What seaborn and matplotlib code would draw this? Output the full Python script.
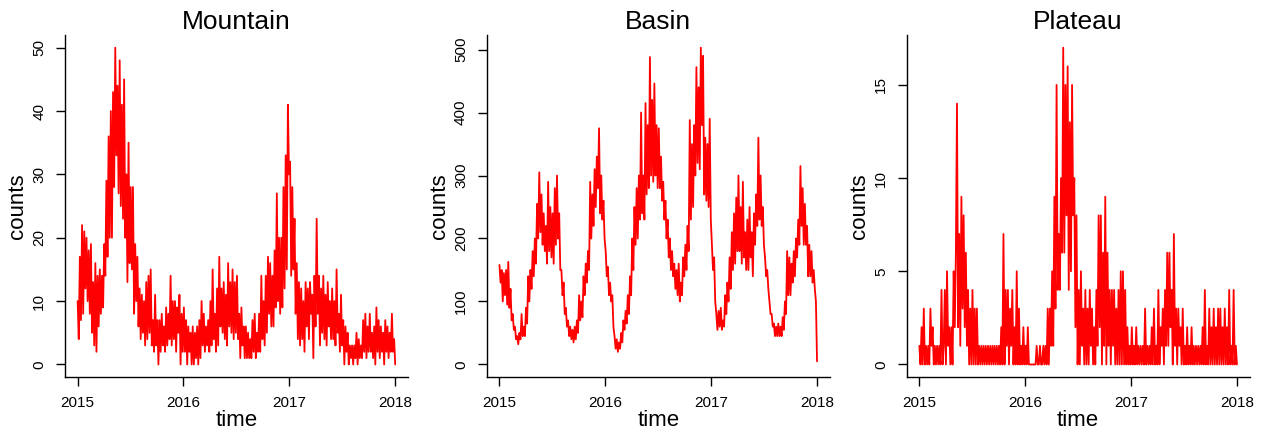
import numpy as np
import pandas as pd
import seaborn as sns
import matplotlib.pyplot as plt

# values, ~8 per month, Jan 2015 .. Dec 2017
mountain = [
    10, 4, 17, 7, 22, 8, 21, 12,
    20, 10, 18, 8, 19, 5, 13, 3,
    16, 2, 14, 6, 15, 8, 14, 9,
    19, 14, 29, 17, 36, 20, 40, 20,
    43, 28, 50, 33, 44, 27, 48, 25,
    41, 23, 45, 20, 30, 13, 35, 16,
    28, 15, 28, 8, 19, 10, 17, 6,
    12, 4, 11, 5, 10, 3, 13, 4,
    14, 5, 15, 3, 7, 2, 11, 3,
    7, 0, 7, 2, 8, 3, 6, 2,
    9, 3, 8, 4, 14, 3, 10, 4,
    10, 2, 9, 5, 11, 0, 8, 2,
    9, 2, 7, 0, 6, 2, 5, 0,
    6, 0, 5, 1, 6, 0, 7, 1,
    10, 3, 8, 2, 6, 3, 7, 2,
    10, 3, 15, 4, 8, 2, 12, 3,
    17, 6, 12, 5, 13, 4, 11, 3,
    16, 6, 13, 5, 15, 4, 13, 5,
    14, 4, 8, 1, 9, 3, 6, 1,
    6, 1, 5, 1, 4, 1, 7, 2,
    8, 1, 5, 2, 8, 2, 14, 4,
    10, 3, 14, 5, 17, 8, 16, 6,
    14, 6, 18, 9, 27, 10, 20, 8,
    20, 9, 28, 12, 33, 15, 41, 30,
    32, 14, 28, 15, 23, 8, 16, 4,
    13, 3, 12, 4, 10, 2, 13, 6,
    12, 4, 13, 8, 11, 1, 14, 6,
    23, 8, 14, 3, 12, 5, 14, 4,
    11, 3, 13, 6, 10, 4, 12, 4,
    10, 3, 15, 5, 8, 2, 11, 3,
    7, 0, 6, 2, 5, 0, 3, 1,
    3, 0, 3, 1, 5, 0, 4, 1,
    3, 1, 7, 2, 8, 1, 6, 2,
    8, 2, 5, 1, 6, 0, 9, 2,
    7, 1, 6, 2, 5, 0, 7, 2,
    6, 1, 5, 2, 8, 2, 4, 0,
]

basin = [
    158, 130, 150, 100, 145, 110, 150, 95,
    163, 90, 120, 70, 80, 55, 60, 40,
    45, 32, 50, 40, 80, 45, 60, 45,
    90, 65, 140, 100, 150, 120, 180, 140,
    200, 160, 255, 200, 305, 210, 270, 190,
    240, 180, 220, 160, 290, 180, 250, 170,
    240, 160, 280, 190, 300, 200, 240, 150,
    150, 110, 130, 80, 90, 60, 70, 45,
    60, 40, 55, 35, 60, 40, 70, 50,
    110, 70, 100, 75, 140, 110, 160, 130,
    180, 150, 290, 200, 270, 220, 310, 250,
    330, 280, 375, 240, 300, 230, 260, 200,
    180, 140, 155, 110, 130, 100, 110, 60,
    45, 25, 40, 20, 35, 25, 50, 35,
    70, 55, 85, 65, 110, 80, 140, 110,
    200, 150, 250, 190, 280, 200, 300, 230,
    400, 240, 300, 230, 415, 270, 380, 280,
    488, 300, 420, 290, 446, 300, 380, 280,
    375, 280, 330, 260, 290, 230, 260, 200,
    230, 170, 200, 150, 180, 140, 160, 120,
    150, 110, 160, 100, 130, 110, 170, 140,
    190, 150, 220, 180, 388, 230, 350, 250,
    380, 300, 472, 320, 440, 310, 503, 380,
    490, 270, 360, 260, 350, 250, 390, 230,
    190, 150, 170, 100, 80, 55, 85, 60,
    90, 55, 70, 60, 110, 80, 130, 100,
    170, 120, 210, 150, 240, 160, 265, 180,
    300, 180, 250, 160, 290, 170, 210, 150,
    230, 150, 250, 170, 210, 140, 240, 190,
    270, 220, 360, 230, 300, 220, 250, 190,
    170, 140, 150, 120, 100, 80, 80, 60,
    65, 45, 60, 45, 65, 45, 60, 45,
    75, 55, 100, 80, 180, 110, 170, 110,
    160, 130, 180, 140, 200, 170, 230, 190,
    315, 220, 280, 190, 255, 190, 220, 140,
    190, 140, 180, 130, 150, 120, 100, 5,
]

plateau = [
    1, 0, 2, 0, 3, 0, 1, 0,
    1, 0, 3, 1, 2, 0, 1, 0,
    1, 0, 1, 0, 4, 0, 1, 4,
    0, 5, 1, 2, 0, 2, 0, 5,
    2, 6, 14, 2, 7, 1, 9, 3,
    8, 2, 6, 1, 4, 0, 3, 0,
    4, 0, 3, 0, 3, 0, 1, 0,
    1, 0, 1, 0, 1, 0, 1, 0,
    1, 0, 1, 0, 1, 0, 1, 0,
    1, 0, 2, 0, 7, 0, 4, 1,
    4, 0, 3, 1, 4, 0, 2, 0,
    5, 0, 3, 0, 1, 0, 2, 0,
    1, 0, 2, 0, 0, 0, 0, 0,
    0, 0, 1, 0, 0, 1, 0, 0,
    1, 0, 1, 0, 3, 0, 3, 1,
    5, 1, 9, 3, 15, 4, 7, 4,
    10, 6, 17, 6, 15, 8, 16, 4,
    13, 5, 15, 8, 10, 2, 8, 0,
    4, 0, 5, 1, 3, 0, 4, 0,
    3, 0, 4, 1, 3, 0, 2, 0,
    4, 1, 8, 2, 8, 0, 6, 1,
    9, 0, 6, 1, 4, 0, 4, 1,
    4, 0, 3, 0, 4, 0, 5, 0,
    5, 0, 4, 0, 2, 0, 1, 0,
    2, 0, 1, 0, 2, 0, 1, 0,
    1, 0, 1, 0, 3, 0, 1, 0,
    1, 0, 2, 0, 3, 0, 1, 0,
    4, 0, 2, 1, 3, 0, 4, 1,
    6, 1, 6, 2, 4, 0, 7, 1,
    3, 0, 3, 1, 2, 0, 3, 0,
    1, 0, 2, 0, 1, 0, 2, 0,
    1, 0, 1, 0, 1, 0, 1, 0,
    2, 0, 4, 0, 1, 0, 3, 0,
    2, 0, 3, 0, 2, 0, 3, 0,
    3, 0, 2, 0, 3, 0, 2, 0,
    4, 0, 1, 0, 4, 0, 1, 0,
]

titles = ["Mountain", "Basin", "Plateau"]
series = [mountain, basin, plateau]
yticks = [[0, 10, 20, 30, 40, 50], [0, 100, 200, 300, 400, 500], [0, 5, 10, 15]]
years = ["2015", "2016", "2017", "2018"]

sns.set_style("ticks")
plt.rcParams["font.family"] = ["Liberation Sans", "DejaVu Sans"]
plt.rcParams["text.color"] = "black"
plt.rcParams["axes.labelcolor"] = "black"

fig = plt.figure(figsize=(12.61, 4.32), dpi=100)
lefts = [0.0515, 0.386, 0.719]

for i in range(3):
    ax = fig.add_axes([lefts[i], 0.127, 0.272, 0.792])
    vals = series[i]
    t = pd.date_range("2015-01-01", "2018-01-01", periods=len(vals))
    df = pd.DataFrame({"time": t, "counts": vals})
    sns.lineplot(data=df, x="time", y="counts", ax=ax, color="#ff0000", linewidth=1.3)

    tick_dates = [pd.Timestamp(y + "-01-01") for y in years]
    ax.set_xticks(tick_dates)
    ax.set_xticklabels(years)
    span = tick_dates[-1] - tick_dates[0]
    ax.set_xlim(tick_dates[0] - span * 0.04, tick_dates[-1] + span * 0.04)
    ymax = max(vals)
    ax.set_ylim(-0.04 * ymax, ymax * 1.04)
    ax.set_yticks(yticks[i])
    ax.set_yticklabels([str(v) for v in yticks[i]], rotation=90, va="center")

    for s in ["top", "right"]:
        ax.spines[s].set_visible(False)
    for s in ["left", "bottom"]:
        ax.spines[s].set_color("black")
        ax.spines[s].set_linewidth(1.0)
    ax.tick_params(axis="both", length=6.5, width=1.0, color="black",
                   labelsize=11, pad=7, labelcolor="black")

    ax.set_title(titles[i], fontsize=19, pad=4, color="black")
    ax.set_xlabel("time", fontsize=16)
    ax.set_ylabel("counts", fontsize=16)
    ax.xaxis.set_label_coords(0.5, -0.095)
    ax.yaxis.set_label_coords(-0.108, 0.5)

fig.savefig("out.png", dpi=100)
